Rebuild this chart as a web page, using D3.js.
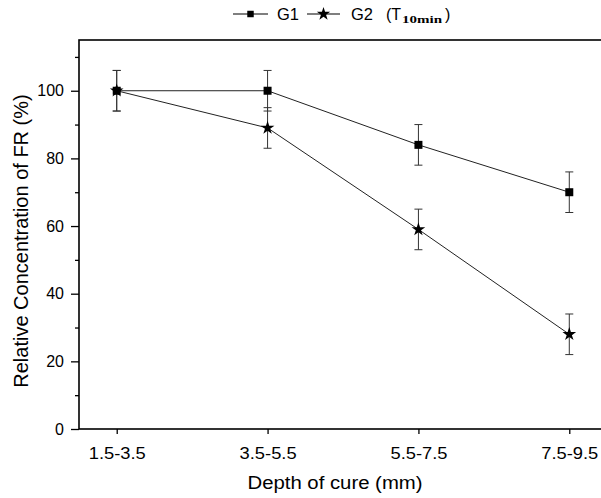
<!DOCTYPE html>
<html>
<head>
    <meta charset="utf-8">
    <style>
        body { margin: 0; background: #fff; }
        svg { display: block; font-family: "Liberation Sans", Arial, sans-serif; }
        .axis .domain { display: none; }
        .axis .tick line { stroke: #000; stroke-width: 1.3px; }
        .axis .tick text { font-size: 16px; fill: #000; font-family: "Liberation Sans", Arial, sans-serif; }
    </style>
</head>
<body>
<svg width="601" height="498"></svg>

<script src="https://d3js.org/d3.v7.min.js"></script>
<script>
    // data
    let categories = ["1.5-3.5", "3.5-5.5", "5.5-7.5", "7.5-9.5"]
    let g1 = [100, 100, 84, 70]
    let g1Err = [6, 6, 6, 6]
    let g2 = [100, 89, 59, 28]
    let g2Err = [6, 6, 6, 6]
    let yTicks = [0, 20, 40, 60, 80, 100]
    let yMinorTicks = [10, 30, 50, 70, 90, 110]

    let svg = d3.select("svg")

    let margin = { top: 40, left: 79, bottom: 429, right: 607 }

    let x = d3.scalePoint()
        .domain(categories)
        .range([margin.left, margin.right])
        .padding(0.25)

    let y = d3.scaleLinear()
        .domain([0, 115])
        .range([margin.bottom, margin.top])

    // axes
    let xAxis = svg.append("g")
        .attr("class", "axis")
        .attr("transform", `translate(0,${margin.bottom})`)
        .call(d3.axisBottom(x).tickSize(5).tickPadding(14))

    // the labels in the figure are a bit wider than plain Arial
    xAxis.selectAll(".tick text")
        .attr("textLength", 57)
        .attr("lengthAdjust", "spacingAndGlyphs")

    svg.append("g")
        .attr("class", "axis")
        .attr("transform", `translate(${margin.left},0)`)
        .call(d3.axisLeft(y).tickValues(yTicks).tickSize(8).tickPadding(7))

    svg.append("g")
        .attr("class", "axis")
        .attr("transform", `translate(${margin.left},0)`)
        .call(d3.axisLeft(y).tickValues(yMinorTicks).tickSize(4).tickFormat(""))

    // frame (right side falls outside the picture)
    svg.append("rect")
        .attr("x", margin.left)
        .attr("y", margin.top)
        .attr("width", margin.right - margin.left)
        .attr("height", margin.bottom - margin.top)
        .style("fill", "none")
        .style("stroke", "#000")
        .style("stroke-width", "1.6px")

    let series = [
        { name: "G1", values: g1, err: g1Err, shape: d3.symbolSquare, size: 64 },
        { name: "G2", values: g2, err: g2Err, shape: d3.symbolStar, size: 58 }
    ]

    let line = d3.line()
        .x((d, i) => x(categories[i]))
        .y(d => y(d))

    series.forEach(function (s) {
        svg.append("path")
            .attr("d", line(s.values))
            .style("fill", "none")
            .style("stroke", "#222")
            .style("stroke-width", "1px")

        let bars = svg.append("g")
            .selectAll("g")
            .data(s.values)
            .join("g")
            .style("stroke", "#333")
            .style("stroke-width", "1px")

        bars.append("line")
            .attr("x1", (d, i) => x(categories[i]))
            .attr("x2", (d, i) => x(categories[i]))
            .attr("y1", (d, i) => y(d - s.err[i]))
            .attr("y2", (d, i) => y(d + s.err[i]))

        bars.append("line")
            .attr("x1", (d, i) => x(categories[i]) - 4)
            .attr("x2", (d, i) => x(categories[i]) + 4)
            .attr("y1", (d, i) => y(d + s.err[i]))
            .attr("y2", (d, i) => y(d + s.err[i]))

        bars.append("line")
            .attr("x1", (d, i) => x(categories[i]) - 4)
            .attr("x2", (d, i) => x(categories[i]) + 4)
            .attr("y1", (d, i) => y(d - s.err[i]))
            .attr("y2", (d, i) => y(d - s.err[i]))
    })

    series.forEach(function (s) {
        svg.append("g")
            .selectAll("path")
            .data(s.values)
            .join("path")
            .attr("transform", (d, i) => `translate(${x(categories[i])},${y(d)})`)
            .attr("d", d3.symbol().type(s.shape).size(s.size))
            .style("fill", "#000")
    })

    // axis titles
    svg.append("text")
        .attr("x", 335)
        .attr("y", 489)
        .attr("text-anchor", "middle")
        .attr("textLength", 175)
        .attr("lengthAdjust", "spacingAndGlyphs")
        .style("font-size", "18px")
        .text("Depth of cure (mm)")

    svg.append("text")
        .attr("transform", "translate(28,241) rotate(-90)")
        .attr("text-anchor", "middle")
        .style("font-size", "20px")
        .text("Relative Concentration of FR (%)")

    // legend
    let legend = svg.append("g")
    let legendItems = [
        { x1: 233, x2: 268, tx: 277, s: series[0] },
        { x1: 307, x2: 340, tx: 351, s: series[1] }
    ]
    legendItems.forEach(function (l) {
        legend.append("line")
            .attr("x1", l.x1).attr("x2", l.x2)
            .attr("y1", 14).attr("y2", 14)
            .style("stroke", "#000")
            .style("stroke-width", "1.2px")
        legend.append("path")
            .attr("transform", `translate(${(l.x1 + l.x2) / 2},14)`)
            .attr("d", d3.symbol().type(l.s.shape).size(l.s.name == "G1" ? 42 : 55))
            .style("fill", "#000")
        legend.append("text")
            .attr("x", l.tx)
            .attr("y", 20)
            .attr("textLength", 22)
            .attr("lengthAdjust", "spacingAndGlyphs")
            .style("font-size", "17px")
            .text(l.s.name)
    })
    legend.append("text")
        .attr("x", 386)
        .attr("y", 20)
        .style("font-size", "16px")
        .text("(T")
    legend.append("text")
        .attr("x", 402)
        .attr("y", 23)
        .attr("textLength", 40)
        .attr("lengthAdjust", "spacingAndGlyphs")
        .style("font-family", "'Liberation Serif', 'Times New Roman', serif")
        .style("font-weight", "bold")
        .style("font-size", "11px")
        .text("10min")
    legend.append("text")
        .attr("x", 445)
        .attr("y", 20)
        .style("font-size", "16px")
        .text(")")
</script>
</body>
</html>
